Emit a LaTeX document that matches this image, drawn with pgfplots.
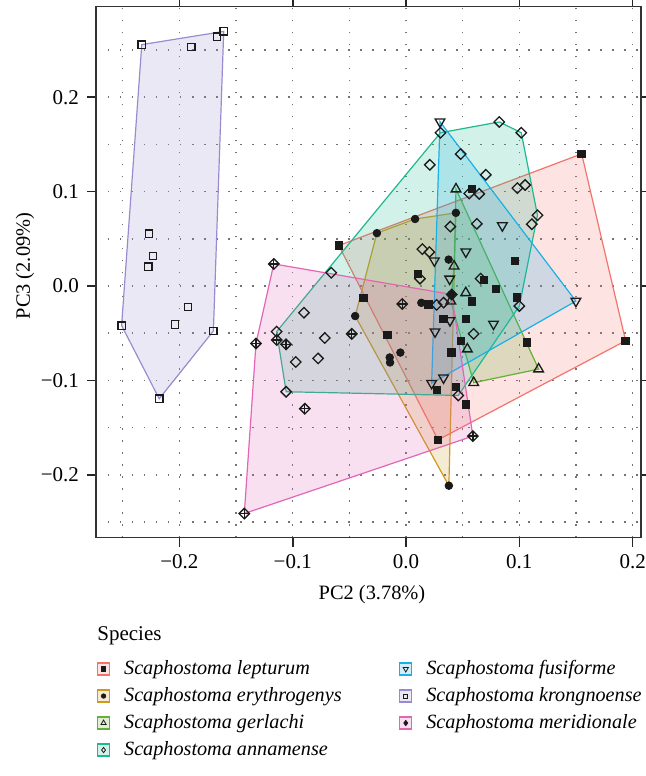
\documentclass[border=0pt]{standalone}
\usepackage{fontspec}
\setmainfont{Liberation Serif}
\usepackage{pgfplots}
\usepackage{pgfplotstable}
\pgfplotsset{compat=1.18}
\definecolor{cL}{HTML}{F4736C}
\definecolor{cE}{HTML}{CE9A1C}
\definecolor{cG}{HTML}{62B034}
\definecolor{cA}{HTML}{1DB98E}
\definecolor{cF}{HTML}{1AAFE6}
\definecolor{cK}{HTML}{9C8AD0}
\definecolor{cM}{HTML}{E266B4}
\definecolor{mk}{HTML}{1A1A1A}

\pgfplotstableread{
x y
-0.0593 0.0429
0.155 0.140
0.1938 -0.058
0.0282 -0.163
0.058 0.1027
0.0962 0.0268
0.0688 0.0064
0.0794 -0.0032
0.0977 -0.012
0.058 -0.0166
0.053 -0.035
0.033 -0.035
0.0485 -0.058
0.0403 -0.0704
0.1065 -0.0597
0.0106 0.013
0.020 -0.0192
-0.0377 -0.0124
-0.0162 -0.0519
0.0441 -0.1067
0.0271 -0.1102
0.053 -0.1253
}\lepturum

\pgfplotstableread{
x y
-0.0257 0.056
0.008 0.071
0.044 0.0775
0.0378 -0.2115
-0.0449 -0.0318
0.0376 0.028
0.0135 -0.0178
-0.005 -0.0705
-0.0144 -0.0757
-0.0141 -0.081
0.040 -0.009
}\erythrogenys

\pgfplotstableread{
x y
0.0441 0.1027
0.0424 0.021
0.0527 -0.0072
0.0395 -0.016
0.0541 -0.0668
0.117 -0.088
0.0597 -0.1024
}\gerlachi

\pgfplotstableread{
x y
0.0304 0.1624
0.0823 0.1738
0.1017 0.1624
0.0482 0.1398
0.0210 0.1284
0.0704 0.1178
0.0983 0.1037
0.1051 0.1070
0.0558 0.0980
0.0646 0.0976
0.1160 0.0750
0.1110 0.0655
0.0625 0.0659
0.0391 0.0630
0.0144 0.0391
0.0206 0.0360
0.0123 0.0078
-0.0660 0.0140
0.0658 0.0078
0.0331 -0.0176
0.0270 -0.0200
-0.0901 -0.0283
0.1000 -0.0212
-0.0717 -0.0551
-0.1142 -0.0483
-0.0973 -0.0805
-0.0776 -0.0767
0.0596 -0.0507
-0.1058 -0.1120
0.0461 -0.1159
}\annamense

\pgfplotstableread{
x y
0.0300 0.1740
0.0850 0.0640
0.0528 0.0362
0.0250 0.0268
0.0385 0.0075
0.1499 -0.0160
0.0388 -0.0365
0.0256 -0.0484
0.0772 -0.0402
0.0331 -0.0972
0.0226 -0.1030
}\fusiforme

\pgfplotstableread{
x y
-0.2332 0.2557
-0.1894 0.2531
-0.1668 0.2640
-0.1609 0.2697
-0.2269 0.0555
-0.2232 0.0317
-0.2275 0.0204
-0.1925 -0.0223
-0.2038 -0.0408
-0.2510 -0.0419
-0.1700 -0.0476
-0.2178 -0.1194
}\krongnoense

\pgfplotstableread{
x y
-0.1167 0.0234
-0.1324 -0.0608
-0.1427 -0.2410
0.0590 -0.1590
0.0403 -0.0090
-0.1141 -0.0572
-0.1059 -0.0618
-0.0479 -0.0507
-0.0033 -0.0190
-0.0893 -0.1300
}\meridionale

\begin{document}
\begin{tikzpicture}
\useasboundingbox (-48pt,-119.25pt) rectangle (275pt,268.75pt);
\begin{axis}[
  at={(0,0)}, anchor=south west, scale only axis,
  width=272.35pt, height=265.55pt,
  xmin=-0.2736, xmax=0.2071, ymin=-0.2664, ymax=0.2962,
  xtick={-0.2,-0.1,0,0.1,0.2},
  xticklabels={\textminus0.2,\textminus0.1,0.0,0.1,0.2},
  ytick={-0.2,-0.1,0,0.1,0.2},
  yticklabels={\textminus0.2,\textminus0.1,0.0,0.1,0.2},
  minor xtick={-0.25,-0.15,-0.05,0.05,0.15},
  minor ytick={-0.25,-0.15,-0.05,0.05,0.15,0.25},
  grid=both,
  major grid style={black!55, line width=0.75pt, dash pattern=on 0.75pt off 5.25pt},
  minor grid style={black!55, line width=0.75pt, dash pattern=on 0.75pt off 5.25pt},
  tick align=outside, major tick length=4.5pt, minor tick length=0pt,
  tick style={black!85, line width=0.8pt},
  axis line style={black!80, line width=0.8pt},
  ticklabel style={font=\fontsize{10.5}{12.6}\selectfont},
  xticklabel style={yshift=-0.5pt},
  yticklabel style={xshift=-0.5pt},
  xlabel={PC2 (3.78\%)}, ylabel={PC3 (2.09\%)},
  label style={font=\fontsize{10.2}{12.2}\selectfont},
  xlabel style={at={(axis description cs:0.5067,-0.1083)}, anchor=center},
  ylabel style={at={(axis description cs:-0.1303,0.5112)}, anchor=center},
  legend columns=2,
  legend cell align=left,
  legend style={at={(axis description cs:0.0018,-0.2279)}, anchor=north west,
    draw=none, fill=none, inner sep=0pt, outer sep=0pt,
    font=\fontsize{10.1}{12.2}\selectfont,
    nodes={inner sep=0pt, text height=8pt, text depth=2.5pt},
    row sep=3pt,
    /tikz/every odd column/.style={column sep=7pt},
    /tikz/every even column/.style={column sep=0pt}},
]
% points (drawn below the hulls)
\addplot[only marks, mark=square*, mark size=1.9pt, mk, forget plot] table {\lepturum};
\addplot[only marks, mark=*, mark size=1.9pt, mk, forget plot] table {\erythrogenys};
\addplot[only marks, mark=triangle, mark size=2.8pt, mk, line width=0.65pt, forget plot] table {\gerlachi};
\addplot[only marks, mark=square, mark size=1.85pt, mk, line width=0.65pt, forget plot, mark options={rotate=45}] table {\annamense};
\addplot[only marks, mark=triangle, mark size=2.8pt, mk, line width=0.65pt, forget plot, mark options={rotate=180}] table {\fusiforme};
\addplot[only marks, mark=square, mark size=1.85pt, mk, line width=0.65pt, forget plot] table {\krongnoense};
\addplot[only marks, mark=square, mark size=1.85pt, mk, line width=0.65pt, forget plot, mark options={rotate=45}] table {\meridionale};
\addplot[only marks, mark=+, mark size=2.6pt, mk, line width=0.65pt, forget plot] table {\meridionale};
% convex hulls
\addplot[draw=cL, fill=cL, fill opacity=0.2, line width=0.6pt, forget plot] coordinates {
(-0.0593,0.0429) (0.155,0.140) (0.1938,-0.058) (0.0282,-0.163)} --cycle;
\addplot[draw=cE, fill=cE, fill opacity=0.2, line width=0.6pt, forget plot] coordinates {
(-0.0257,0.056) (0.008,0.071) (0.044,0.0775) (0.0378,-0.2115) (-0.0449,-0.0318)} --cycle;
\addplot[draw=cG, fill=cG, fill opacity=0.2, line width=0.6pt, forget plot] coordinates {
(0.0441,0.1027) (0.117,-0.088) (0.0597,-0.1024) (0.0395,-0.016) (0.0424,0.021)} --cycle;
\addplot[draw=cA, fill=cA, fill opacity=0.2, line width=0.6pt, forget plot] coordinates {
(-0.1142,-0.0483) (0.0304,0.1624) (0.0823,0.1738) (0.1017,0.1624) (0.1160,0.0750) (0.1000,-0.0212) (0.0461,-0.1159) (-0.1058,-0.1120)} --cycle;
\addplot[draw=cF, fill=cF, fill opacity=0.2, line width=0.6pt, forget plot] coordinates {
(0.0300,0.1740) (0.1499,-0.0160) (0.0226,-0.1030)} --cycle;
\addplot[draw=cK, fill=cK, fill opacity=0.2, line width=0.6pt, forget plot] coordinates {
(-0.2332,0.2557) (-0.1609,0.2697) (-0.1700,-0.0476) (-0.2178,-0.1194) (-0.2510,-0.0419)} --cycle;
\addplot[draw=cM, fill=cM, fill opacity=0.2, line width=0.6pt, forget plot] coordinates {
(-0.1167,0.0234) (0.0403,-0.0090) (0.0590,-0.1590) (-0.1427,-0.2410) (-0.1324,-0.0608)} --cycle;
% legend
\addlegendimage{legend image code/.code={
  \draw[draw=cL, fill=cL!20, line width=0.6pt] (0pt,-3pt) rectangle (6pt,3pt);
  \draw[mk] plot[mark=square*, mark size=1.1pt] coordinates {(3pt,0pt)};}}
\addlegendentry{\makebox[137.5pt][l]{\itshape Scaphostoma lepturum}}
\addlegendimage{legend image code/.code={
  \draw[draw=cF, fill=cF!20, line width=0.6pt] (0pt,-3pt) rectangle (6pt,3pt);
  \draw[mk, line width=0.4pt] plot[mark=triangle, mark size=1.5pt, mark options={rotate=180}] coordinates {(3pt,0pt)};}}
\addlegendentry{\itshape Scaphostoma fusiforme}
\addlegendimage{legend image code/.code={
  \draw[draw=cE, fill=cE!20, line width=0.6pt] (0pt,-3pt) rectangle (6pt,3pt);
  \draw[mk] plot[mark=*, mark size=1.1pt] coordinates {(3pt,0pt)};}}
\addlegendentry{\makebox[137.5pt][l]{\itshape Scaphostoma erythrogenys}}
\addlegendimage{legend image code/.code={
  \draw[draw=cK, fill=cK!20, line width=0.6pt] (0pt,-3pt) rectangle (6pt,3pt);
  \draw[mk, line width=0.4pt] plot[mark=square, mark size=1pt] coordinates {(3pt,0pt)};}}
\addlegendentry{\itshape Scaphostoma krongnoense}
\addlegendimage{legend image code/.code={
  \draw[draw=cG, fill=cG!20, line width=0.6pt] (0pt,-3pt) rectangle (6pt,3pt);
  \draw[mk, line width=0.4pt] plot[mark=triangle, mark size=1.5pt] coordinates {(3pt,0pt)};}}
\addlegendentry{\makebox[137.5pt][l]{\itshape Scaphostoma gerlachi}}
\addlegendimage{legend image code/.code={
  \draw[draw=cM, fill=cM!20, line width=0.6pt] (0pt,-3pt) rectangle (6pt,3pt);
  \draw[mk, line width=0.4pt] plot[mark=diamond*, mark size=1.3pt] coordinates {(3pt,0pt)};}}
\addlegendentry{\itshape Scaphostoma meridionale}
\addlegendimage{legend image code/.code={
  \draw[draw=cA, fill=cA!20, line width=0.6pt] (0pt,-3pt) rectangle (6pt,3pt);
  \draw[mk, line width=0.4pt] plot[mark=diamond, mark size=1.3pt] coordinates {(3pt,0pt)};}}
\addlegendentry{\makebox[137.5pt][l]{\itshape Scaphostoma annamense}}
\end{axis}
\node[anchor=west, font=\fontsize{10.5}{12.6}\selectfont, inner sep=0pt] at (0.5pt,-49.25pt) {Species};
\end{tikzpicture}
\end{document}
